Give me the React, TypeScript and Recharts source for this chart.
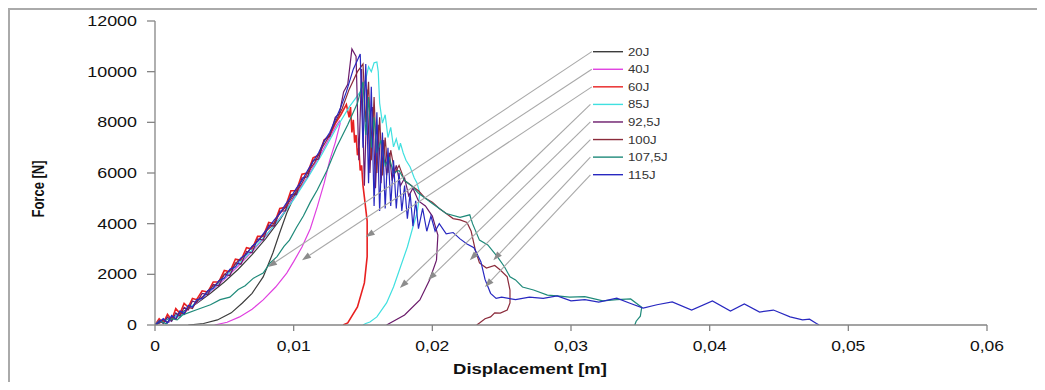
import React from 'react';
import { LineChart, Line, XAxis, YAxis, ReferenceLine, Legend } from 'recharts';

type P = [number, number];

// Displacement [m], Force [N]
const J20: P[] = [
  [0, 0], [0.0005, 120], [0.001, 250], [0.0015, 380], [0.002, 520], [0.003, 850], [0.004, 1250], [0.005, 1700],
  [0.006, 2200], [0.007, 2780], [0.008, 3420], [0.009, 4150], [0.0097, 4750], [0.0102, 5250], [0.0099, 4900],
  [0.0095, 4420], [0.009, 3650], [0.0085, 2840], [0.0078, 1900], [0.007, 1250], [0.0063, 870], [0.0055, 480],
  [0.0045, 200], [0.0035, 60], [0.0024, 0],
];
const J40: P[] = [
  [0, 0], [0.0005, 150], [0.001, 100], [0.0015, 350], [0.002, 450], [0.003, 880], [0.004, 1320], [0.005, 1800],
  [0.006, 2330], [0.007, 2900], [0.008, 3520], [0.009, 4220], [0.01, 5000], [0.011, 5850], [0.012, 6800],
  [0.0127, 7500], [0.0131, 7900], [0.0133, 8050], [0.01335, 7950], [0.013, 7200], [0.0126, 6500], [0.0122, 5600],
  [0.0117, 4660], [0.0112, 3800], [0.0106, 3080], [0.01, 2500], [0.0095, 2050], [0.0087, 1500], [0.0078, 990],
  [0.007, 620], [0.0061, 320], [0.0052, 110], [0.0043, 0],
];
const J60: P[] = [
  [0, 0], [0.0003, 250], [0.0006, 80], [0.0009, 420], [0.0012, 200], [0.0015, 650], [0.0018, 450], [0.0021, 850],
  [0.0024, 700], [0.0027, 1050], [0.003, 1000], [0.0034, 1350], [0.0038, 1300], [0.0042, 1700], [0.0046, 1700],
  [0.005, 2150], [0.0054, 2100], [0.0058, 2600], [0.0062, 2550], [0.0066, 3050], [0.007, 3000], [0.0074, 3500],
  [0.0078, 3500], [0.0082, 4050], [0.0086, 4000], [0.009, 4600], [0.0094, 4650], [0.0098, 5300], [0.0102, 5300],
  [0.0106, 5950], [0.011, 6000], [0.0114, 6600], [0.0118, 6700], [0.0122, 7300], [0.0126, 7500], [0.013, 7950],
  [0.0134, 8300], [0.0138, 8700], [0.014, 8200], [0.0141, 8600], [0.0142, 7600], [0.0143, 8100], [0.0144, 7200],
  [0.0145, 7500], [0.0146, 6700], [0.0147, 7000], [0.0148, 6100], [0.0149, 6300], [0.015, 5500], [0.0151, 5050],
  [0.0153, 4100], [0.0153, 2700], [0.0151, 1660], [0.0146, 710], [0.0139, 80], [0.01356, 0],
];
const J85: P[] = [
  [0, 0], [0.0003, 180], [0.0006, 60], [0.0009, 260], [0.0012, 150], [0.0015, 380], [0.0018, 300], [0.0021, 520],
  [0.003, 900], [0.004, 1350], [0.005, 1850], [0.006, 2400], [0.007, 2950], [0.008, 3550], [0.009, 4200],
  [0.01, 4950], [0.011, 5800], [0.012, 6700], [0.013, 7700], [0.014, 8600], [0.0148, 9200], [0.0152, 9700],
  [0.0154, 10200], [0.0156, 10000], [0.0158, 10350], [0.016, 10380], [0.0161, 10000], [0.0162, 8760],
  [0.0164, 7970], [0.0166, 8300], [0.0168, 7400], [0.017, 7800], [0.0172, 7030], [0.0174, 7350], [0.0176, 6900],
  [0.0177, 7180], [0.0179, 6790], [0.0181, 6500], [0.0184, 6240], [0.0187, 5800], [0.0189, 5600], [0.0191, 5200],
  [0.0189, 4420], [0.0186, 3870], [0.0182, 3080], [0.0177, 2290], [0.0172, 1500], [0.0167, 870], [0.016, 320],
  [0.0155, 120], [0.0152, 60], [0.015, 0],
];
const J92: P[] = [
  [0, 0], [0.0003, 180], [0.0006, 60], [0.0009, 320], [0.0012, 150], [0.0015, 480], [0.0018, 350], [0.0021, 700],
  [0.0024, 600], [0.0027, 950], [0.003, 880], [0.0034, 1250], [0.0038, 1200], [0.0042, 1600], [0.0046, 1550],
  [0.005, 2000], [0.0054, 1950], [0.0058, 2450], [0.0062, 2400], [0.0066, 2900], [0.007, 2850], [0.0074, 3400],
  [0.0078, 3350], [0.0082, 3950], [0.0086, 3900], [0.009, 4500], [0.0094, 4500], [0.0098, 5150], [0.0102, 5150],
  [0.0106, 5800], [0.011, 5850], [0.0114, 6500], [0.0118, 6550], [0.0122, 7300], [0.0126, 7450], [0.013, 8200],
  [0.0133, 8350], [0.0136, 9200], [0.0139, 9500], [0.0142, 10900], [0.0145, 10600],
  [0.0147, 6500], [0.0149, 10100], [0.0151, 5500], [0.0153, 9300], [0.0155, 6000], [0.0157, 8600], [0.0159, 5400],
  [0.0161, 7900], [0.0163, 5600], [0.0165, 7300], [0.0167, 5900], [0.0169, 6800], [0.0171, 5700], [0.0174, 6300],
  [0.0177, 5500], [0.018, 5800], [0.0183, 5100], [0.0186, 5400], [0.019, 4900], [0.0195, 4700], [0.02, 4300],
  [0.0204, 3550], [0.0203, 2560], [0.0198, 1780], [0.0191, 990], [0.018, 395], [0.0167, 0],
];
const J100: P[] = [
  [0, 0], [0.0003, 80], [0.0006, 200], [0.0009, 100], [0.0012, 320], [0.0015, 220], [0.0018, 500], [0.0021, 420],
  [0.0024, 700], [0.0027, 650], [0.003, 950], [0.0035, 1150], [0.004, 1450], [0.0045, 1650], [0.005, 2000],
  [0.0055, 2200], [0.006, 2550], [0.0065, 2750], [0.007, 3100], [0.0075, 3350], [0.008, 3700], [0.0085, 3950],
  [0.009, 4400], [0.0095, 4700], [0.01, 5150], [0.0105, 5500], [0.011, 6000], [0.0115, 6400], [0.012, 6950],
  [0.0125, 7400], [0.013, 8000], [0.0135, 8550], [0.014, 9300], [0.0146, 10000], [0.015, 10300], [0.0152, 8000],
  [0.0154, 9600], [0.0156, 6500], [0.0158, 9000], [0.016, 6000], [0.0162, 8200], [0.0164, 5900], [0.0166, 7400],
  [0.0168, 6000], [0.017, 6900], [0.0173, 6000], [0.0176, 6300], [0.018, 5700], [0.0185, 5500], [0.019, 5300],
  [0.0195, 5000], [0.02, 4850], [0.0205, 4600], [0.021, 4400], [0.0215, 4200], [0.022, 4150], [0.0225, 4050],
  [0.0228, 3700], [0.0231, 2960], [0.0234, 2450], [0.0239, 2250], [0.0245, 2350], [0.0249, 2170], [0.0254, 1900],
  [0.0256, 1380], [0.0256, 870], [0.0254, 590], [0.0249, 470], [0.0245, 480], [0.0242, 320], [0.0238, 250],
  [0.0234, 80], [0.0232, 0],
];
const J107: P[] = [
  [0, 0], [0.0004, 150], [0.0008, 50], [0.0012, 250], [0.0016, 200], [0.002, 400], [0.003, 600], [0.004, 800],
  [0.0047, 1000], [0.0054, 1100], [0.006, 1400], [0.0065, 1550], [0.0071, 1850], [0.0078, 2050], [0.0083, 2450],
  [0.0088, 2700], [0.0093, 3100], [0.0097, 3350], [0.0102, 3850], [0.0107, 4300], [0.0112, 4850], [0.0117, 5330],
  [0.0124, 6100], [0.0131, 7030], [0.0139, 7900], [0.0146, 8760], [0.015, 9600], [0.0152, 7500], [0.0154, 9000],
  [0.0156, 7000], [0.0158, 8200], [0.016, 6800], [0.0163, 7300], [0.0166, 6300], [0.0169, 6600], [0.0172, 6000],
  [0.0176, 6100], [0.018, 5700], [0.0185, 5500], [0.019, 5200], [0.0195, 5000], [0.02, 4800], [0.021, 4400],
  [0.022, 4250], [0.0227, 4350], [0.0229, 4000], [0.0234, 3350], [0.024, 3160], [0.0247, 2690], [0.0252, 2300],
  [0.0256, 1900], [0.026, 1780], [0.0265, 1500], [0.0273, 1380], [0.0283, 1180], [0.029, 1150], [0.0299, 1100],
  [0.031, 1120], [0.0323, 950], [0.0333, 1000], [0.0343, 1030], [0.0351, 700], [0.035, 350], [0.0347, 150],
  [0.0346, 0],
];
const J115: P[] = [
  [0, 0], [0.0003, 120], [0.0006, 250], [0.0009, 80], [0.0012, 380], [0.0015, 250], [0.0018, 560], [0.0021, 450],
  [0.0024, 780], [0.0027, 700], [0.003, 1000], [0.0034, 1050], [0.0038, 1350], [0.0042, 1450], [0.0046, 1750],
  [0.005, 1850], [0.0054, 2200], [0.0058, 2300], [0.0062, 2650], [0.0066, 2800], [0.007, 3100], [0.0074, 3300],
  [0.0078, 3600], [0.0082, 3850], [0.0086, 4150], [0.009, 4400], [0.0094, 4750], [0.0098, 5050], [0.0102, 5400],
  [0.0106, 5700], [0.011, 6100], [0.0114, 6450], [0.0118, 6800], [0.0122, 7250], [0.0126, 7600], [0.013, 8100],
  [0.0134, 8600], [0.0138, 9200], [0.0143, 10100], [0.0148, 10700], [0.015, 7000], [0.0152, 10300], [0.0154, 5600],
  [0.0156, 9400], [0.0158, 4700], [0.016, 8400], [0.0162, 4500], [0.0164, 7600], [0.0166, 4600], [0.0168, 7000],
  [0.017, 4700], [0.0172, 6500], [0.0174, 4600], [0.0176, 6000], [0.0178, 4500], [0.018, 5500], [0.0182, 4200],
  [0.0184, 5200], [0.0186, 3900], [0.0188, 4900], [0.019, 3800], [0.0193, 4600], [0.0196, 3700], [0.0199, 4300],
  [0.0202, 3700], [0.0205, 4000], [0.021, 3600], [0.0215, 3650], [0.022, 3400], [0.0225, 3200], [0.023, 3050],
  [0.0235, 2500], [0.0238, 1800], [0.0242, 1250], [0.0246, 1050], [0.025, 1100], [0.026, 1000], [0.027, 1100],
  [0.028, 1050], [0.029, 1150], [0.03, 950], [0.031, 1000], [0.032, 900], [0.0333, 1060], [0.0343, 850],
  [0.0352, 670], [0.0362, 800], [0.0373, 910], [0.0387, 590], [0.0402, 950], [0.0415, 550], [0.0425, 830],
  [0.0436, 510], [0.0446, 590], [0.0458, 320], [0.0467, 200], [0.0472, 230], [0.0477, 60], [0.0479, 0],
];

const seriesNames = ['20J', '40J', '60J', '85J', '92,5J', '100J', '107,5J', '115J'];
const seriesColors = ['#3c3c3c', '#e040e0', '#e82020', '#40e0e0', '#6a1a6a', '#8b2b3b', '#1f8a7a', '#2828c0'];
const seriesPoints = [J20, J40, J60, J85, J92, J100, J107, J115];

const xTicks = [0, 0.01, 0.02, 0.03, 0.04, 0.05, 0.06];
const yTicks = [0, 2000, 4000, 6000, 8000, 10000, 12000];

// leader lines (legend -> curve), data coordinates
const leaderStartX = [0.0315, 0.0315, 0.0315, 0.0314, 0.0314, 0.0314, 0.0314, 0.0314];
const leaderStartY = [10790, 10095, 9400, 8705, 8015, 7320, 6625, 5930];
const arrowTipX = [0.00815, 0.0106, 0.0152, 0.01766, 0.0197, 0.0227, 0.0244, 0.0238];
const arrowTipY = [2290, 2560, 3470, 1460, 1780, 2560, 2560, 1500];

const FONT = '"Liberation Sans", Arial, sans-serif';

const XTick = (props: any) => {
  const { x, y, payload } = props;
  const label = String(payload.value).replace('.', ',');
  return (
    <g transform={`translate(${x},${y})`}>
      <text transform="scale(1.25,1)" textAnchor="middle" dy={18} fontSize={14} fill="#111" fontFamily={FONT}>
        {label}
      </text>
    </g>
  );
};

const YTick = (props: any) => {
  const { x, y, payload } = props;
  return (
    <g transform={`translate(${x},${y})`}>
      <text transform="scale(1.28,1)" textAnchor="end" dy="0.36em" fontSize={14} fill="#111" fontFamily={FONT}>
        {payload.value}
      </text>
    </g>
  );
};

const XTitle = (props: any) => {
  const vb = props.viewBox || { x: 145, y: 315, width: 832, height: 30 };
  const cx = vb.x + vb.width / 2 - 41;
  const cy = vb.y + 49;
  return (
    <g transform={`translate(${cx},${cy})`}>
      <text transform="scale(1.32,1)" textAnchor="middle" fontSize={14} fontWeight="bold" fill="#111" fontFamily={FONT}>
        Displacement [m]
      </text>
    </g>
  );
};

const YTitle = (props: any) => {
  const vb = props.viewBox || { x: 85, y: 11, width: 60, height: 304 };
  const cx = vb.x - 57;
  const cy = vb.y + vb.height / 2 + 16;
  return (
    <g transform={`translate(${cx},${cy}) scale(1.25,1) rotate(-90)`}>
      <text textAnchor="middle" dy="0.36em" fontSize={13} fontWeight="bold" fill="#111" fontFamily={FONT}>
        Force [N]
      </text>
    </g>
  );
};

const Arrow = (props: any) => {
  const { x1, y1, x2, y2 } = props;
  if ([x1, y1, x2, y2].some((v) => typeof v !== 'number' || isNaN(v))) return <g />;
  const dx = x2 - x1;
  const dy = y2 - y1;
  const len = Math.hypot(dx, dy) || 1;
  const ux = dx / len;
  const uy = dy / len;
  const L = 9;
  const W = 3.2;
  const bx = x2 - ux * L;
  const by = y2 - uy * L;
  const pts = `${x2},${y2} ${bx - uy * W},${by + ux * W} ${bx + uy * W},${by - ux * W}`;
  return (
    <g>
      <line x1={x1} y1={y1} x2={bx} y2={by} stroke="#a8a8a8" strokeWidth={1.1} />
      <polygon points={pts} fill="#8c8c8c" />
    </g>
  );
};

const LegendBox = () => (
  <svg width={130} height={150} style={{ display: 'block' }}>
    {seriesNames.map((n, i) => {
      const yy = 7.7 + 17.57 * i;
      return (
        <g key={n}>
          <line x1={5} y1={yy} x2={35} y2={yy} stroke={seriesColors[i]} strokeWidth={1.4} />
          <g transform={`translate(40,${yy})`}>
            <text transform="scale(1.2,1)" dy="0.36em" fontSize={11} fill="#333" fontFamily={FONT}>
              {n}
            </text>
          </g>
        </g>
      );
    })}
  </svg>
);

export default function App() {
  return (
    <div
      style={{
        width: 1034,
        height: 372,
        borderTop: '2px solid #aaaaaa',
        borderLeft: '2px solid #aaaaaa',
        background: '#fff',
        position: 'relative',
      }}
    >
      <LineChart width={1034} height={372} margin={{ top: 11, right: 57, bottom: 27, left: 85 }}>
        <XAxis
          dataKey="x"
          type="number"
          domain={[0, 0.06]}
          ticks={xTicks}
          allowDataOverflow
          height={30}
          tickSize={6}
          tickMargin={2}
          tick={<XTick />}
          axisLine={{ stroke: '#858585', strokeWidth: 1.3 }}
          tickLine={{ stroke: '#858585', strokeWidth: 1.3 }}
          label={{ content: (p: any) => <XTitle {...p} /> }}
        />
        <YAxis
          type="number"
          domain={[0, 12000]}
          ticks={yTicks}
          allowDataOverflow
          width={60}
          tickSize={8}
          tickMargin={10}
          tick={<YTick />}
          axisLine={{ stroke: '#858585', strokeWidth: 1.3 }}
          tickLine={{ stroke: '#858585', strokeWidth: 1.3 }}
          label={{ content: (p: any) => <YTitle {...p} /> }}
        />
        {seriesPoints.map((pts, i) => (
          <Line
            key={seriesNames[i]}
            name={seriesNames[i]}
            data={pts.map((p) => ({ x: p[0], y: p[1] }))}
            dataKey="y"
            type="linear"
            stroke={seriesColors[i]}
            strokeWidth={i === 2 ? 1.6 : 1.2}
            dot={false}
            activeDot={false}
            isAnimationActive={false}
          />
        ))}
        {seriesNames.map((n, i) => (
          <ReferenceLine
            key={'lead' + n}
            segment={[
              { x: leaderStartX[i], y: leaderStartY[i] },
              { x: arrowTipX[i], y: arrowTipY[i] },
            ]}
            stroke="#a8a8a8"
            shape={(p: any) => <Arrow {...p} />}
          />
        ))}
        <Legend
          layout="horizontal"
          verticalAlign="middle"
          align="center"
          content={() => <LegendBox />}
          wrapperStyle={{ position: 'absolute', left: 578, top: 34, width: 130, height: 150 }}
        />
      </LineChart>
    </div>
  );
}
